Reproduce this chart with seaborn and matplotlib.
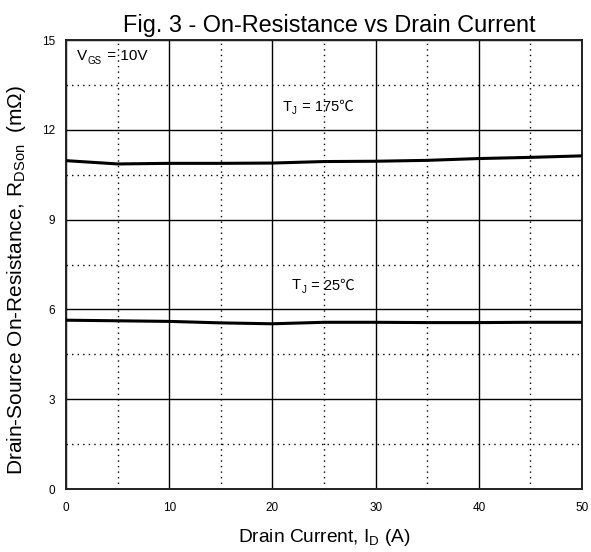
import matplotlib
matplotlib.use("Agg")
import matplotlib.pyplot as plt
import seaborn as sns
import pandas as pd
from matplotlib.ticker import MultipleLocator

current = [0, 5, 10, 15, 20, 25, 30, 35, 40, 45, 50]
r_175 = [10.97, 10.86, 10.88, 10.88, 10.89, 10.94, 10.95, 10.98, 11.04, 11.08, 11.13]
r_25 = [5.64, 5.62, 5.60, 5.55, 5.52, 5.57, 5.57, 5.56, 5.56, 5.57, 5.57]
temps = ["175", "25"]
x_ticks = [0, 10, 20, 30, 40, 50]
y_ticks = [0, 3, 6, 9, 12, 15]

sns.set_theme(style="white")
FAM = ['Liberation Sans', 'Noto Sans CJK SC', 'DejaVu Sans']
plt.rcParams['font.family'] = FAM
plt.rcParams['mathtext.fontset'] = 'custom'
plt.rcParams['mathtext.rm'] = 'Liberation Sans'
plt.rcParams['mathtext.it'] = 'Liberation Sans'

df = pd.concat([
    pd.DataFrame({"I": current, "R": r_175, "T": temps[0]}),
    pd.DataFrame({"I": current, "R": r_25, "T": temps[1]}),
])

fig = plt.figure(figsize=(5.91, 5.52), dpi=100)
ax = fig.add_axes([0.1117, 0.1141, 0.8731, 0.8134])

sns.lineplot(data=df, x="I", y="R", units="T", estimator=None, color="black",
             linewidth=2.2, ax=ax, zorder=3)

ax.set_xlim(0, 50)
ax.set_ylim(0, 15)
ax.set_xticks(x_ticks)
ax.set_yticks(y_ticks)
ax.xaxis.set_minor_locator(MultipleLocator(5))
ax.yaxis.set_minor_locator(MultipleLocator(1.5))
ax.grid(which="major", color="black", linestyle="-", linewidth=1.0)
ax.grid(which="minor", color="black", linestyle=(0, (1, 3)), linewidth=1.0)
ax.tick_params(which="both", length=0, labelsize=8.5, colors="black")
ax.tick_params(axis="x", pad=9)
ax.tick_params(axis="y", pad=8)
for s in ax.spines.values():
    s.set_color("#222222")
    s.set_linewidth(1.4)

ax.set_title("Fig. 3 - On-Resistance vs Drain Current", fontsize=16.9, pad=6, color="black",
             x=0.51)
ax.set_xlabel("Drain Current, I$_\\mathregular{D}$ (A)", fontsize=13.8, labelpad=10, color="black")
ax.set_ylabel("Drain-Source On-Resistance, R$_\\mathregular{DSon}$  (m\u03a9)", fontsize=15,
              color="black")
ax.yaxis.set_label_coords(-0.074, 0.465)


def sub_label(x, y, main, sub, rest, fs, sfs):
    t = ax.text(x, y, main, fontsize=fs, va="center", ha="left", family=FAM, color="black")
    s = ax.annotate(sub, xy=(1, 0), xycoords=t, xytext=(0.3, -1.5),
                    textcoords="offset points", fontsize=sfs, va="bottom", ha="left",
                    family=FAM, color="black")
    ax.annotate(rest, xy=(1, 0), xycoords=(s, t), xytext=(0.5, 0),
                textcoords="offset points", fontsize=fs, va="bottom", ha="left",
                family=FAM, color="black")


sub_label(1.1, 14.45, "V", "GS", " = 10V", 11, 7)
sub_label(21.0, 12.76, "T", "J", " = " + temps[0] + "\u2103", 10.5, 7)
sub_label(21.9, 6.8, "T", "J", " = " + temps[1] + "\u2103", 10.5, 7)

fig.savefig("out.png", dpi=100)
